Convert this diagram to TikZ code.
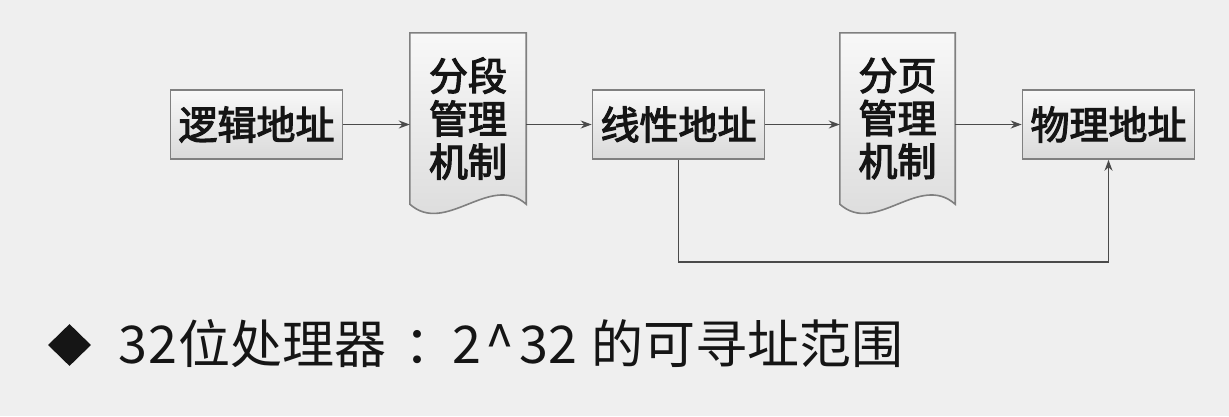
\documentclass[tikz,border=0pt]{standalone}
\usepackage{fontspec}
\setmainfont{Noto Sans CJK SC}
\newfontfamily\boxfont[FakeBold=3]{Noto Sans CJK SC}
\usetikzlibrary{arrows.meta,shapes.geometric,backgrounds}
\definecolor{bgcol}{HTML}{EFEFEF}
\definecolor{boxline}{HTML}{808080}
\definecolor{boxtop}{HTML}{F8F8F8}
\definecolor{boxbot}{HTML}{DADADA}
\definecolor{arrline}{HTML}{4A4A4A}
\definecolor{txt}{HTML}{151515}

\begin{document}
\begin{tikzpicture}[x=1pt,y=-1pt,
 box/.style={draw=boxline,line width=1.6pt,top color=boxtop,bottom color=boxbot,minimum width=172pt,minimum height=69pt,inner sep=0pt,text=txt,font=\boxfont\fontsize{39}{39}\selectfont},
 doc/.style={minimum width=116pt,minimum height=171pt,inner sep=0pt,align=center,text=txt,font=\boxfont\fontsize{39}{43}\selectfont},
 docline/.style={draw=boxline,line width=1.6pt,top color=boxtop,bottom color=boxbot},
 arr/.style={draw=arrline,line width=1.5pt,-{Stealth[length=11pt,width=8pt]}}]
\begin{pgfonlayer}{background}
\fill[bgcol] (0,0) rectangle (1229,416);
\end{pgfonlayer}
\useasboundingbox (0,0) rectangle (1229,416);
% boxes
\node[box] (logic) at (256.5,124.5) {逻辑地址};
\node[doc] (seg) at (468,118.5) {分段\\管理\\机制};
\node[box] (linear) at (678.5,124.5) {线性地址};
\node[doc,minimum width=115pt] (page) at (897.5,118.5) {分页\\管理\\机制};
\node[box] (phys) at (1108.5,124.5) {物理地址};
\begin{pgfonlayer}{background}
\foreach \n in {seg,page}
 \draw[docline] (\n.south west) -- (\n.north west) -- (\n.north east) -- (\n.south east)
  .. controls +(-36,-32) and +(36,32) .. (\n.south west) -- cycle;
\end{pgfonlayer}
% connectors
\draw[arr] (logic.east) -- (logic.east -| seg.west);
\draw[arr] (seg.east |- linear.west) -- (linear.west);
\draw[arr] (linear.east) -- (linear.east -| page.west);
\draw[arr] (page.east |- phys.west) -- (phys.west);
\draw[arr] (linear.south) -- ++(0,102) -| (phys.south);
% note
\node[diamond,fill=txt,minimum width=43pt,minimum height=42pt,inner sep=0pt] (bullet) at (69.5,345) {};
\node[anchor=base west,inner sep=0pt,text=txt,font=\fontsize{52}{52}\selectfont] (note) at (118,363)
 {3\hspace{1.5pt}2\hspace{1.5pt}位处理器\hspace{18pt}：\hspace{-4pt}2\hspace{4pt}\^{}\hspace{5pt}32\hspace{3pt} 的可寻址范围};
\end{tikzpicture}
\end{document}
